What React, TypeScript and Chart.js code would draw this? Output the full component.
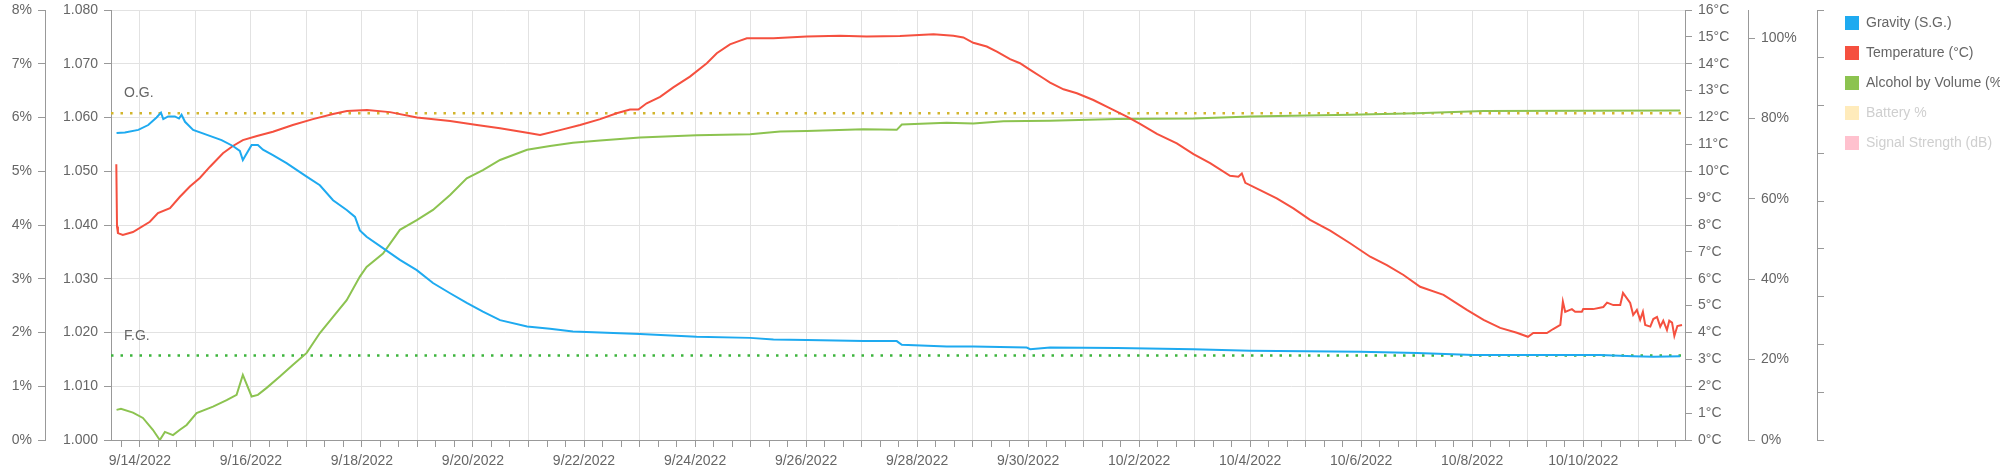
import React, { useEffect, useRef } from 'react';
import { Chart, registerables } from 'chart.js';

Chart.register(...registerables);

// ---- time axis: hours since 9/14/2022 00:00 ----
const X_MIN = -12.5;
const X_MAX = 668;
const START_Y = 2022;
const START_M = 8; // September (0-based)
const START_D = 14;

// ---- series ----
const gravityHours = [-10.1, -6.5, -0.7, 3.6, 7.2, 9.1, 10.1, 12.2, 15.1, 16.9, 18.0, 19.5, 23.0, 28.1, 35.3, 40.2, 43.2, 44.5, 48.3, 51.0, 53.2, 57.5, 63.4, 72.1, 77.8, 83.5, 89.4, 93.0, 95.1, 98.0, 105.1, 112.4, 119.7, 126.7, 134.1, 141.3, 148.3, 155.7, 167.4, 177.3, 187.2, 198.9, 216.2, 240.7, 263.8, 273.9, 288.3, 312.8, 327.2, 329.4, 348.8, 360.3, 383.4, 384.9, 393.5, 422.4, 455.5, 480.0, 527.6, 552.1, 576.6, 588.1, 631.4, 645.6, 654.3, 665.9];
const gravitySG = [1.0571, 1.0572, 1.0577, 1.0586, 1.0600, 1.0609, 1.0597, 1.0602, 1.0602, 1.0598, 1.0605, 1.0592, 1.0577, 1.0569, 1.0558, 1.0547, 1.0538, 1.0521, 1.0549, 1.0549, 1.0540, 1.0530, 1.0515, 1.0490, 1.0474, 1.0446, 1.0428, 1.0415, 1.0390, 1.0378, 1.0357, 1.0335, 1.0316, 1.0292, 1.0273, 1.0255, 1.0239, 1.0223, 1.0211, 1.0207, 1.0202, 1.0200, 1.0197, 1.0192, 1.0190, 1.0187, 1.0186, 1.0184, 1.0184, 1.0177, 1.0174, 1.0174, 1.0172, 1.0169, 1.0172, 1.0171, 1.0169, 1.0166, 1.0164, 1.0162, 1.0158, 1.0158, 1.0158, 1.0156, 1.0155, 1.0156];

const tempHours = [-10.2, -9.9, -9.5, -7.4, -3.0, 4.3, 7.8, 13.0, 17.3, 21.6, 25.9, 30.3, 35.9, 40.2, 44.5, 50.6, 57.5, 66.1, 74.8, 83.5, 89.5, 98.2, 108.1, 119.8, 134.1, 145.7, 155.7, 167.4, 173.0, 181.6, 190.3, 199.0, 206.1, 211.9, 215.5, 219.1, 224.9, 230.6, 237.8, 245.1, 249.4, 255.1, 259.5, 262.4, 273.9, 288.3, 302.7, 314.2, 328.6, 343.1, 351.7, 356.0, 360.3, 366.1, 370.5, 376.2, 380.5, 384.9, 390.6, 393.5, 399.3, 405.1, 412.2, 419.5, 426.7, 432.4, 439.7, 448.3, 455.5, 462.7, 471.3, 474.9, 476.4, 477.9, 484.3, 491.5, 498.7, 505.9, 514.6, 523.2, 531.9, 539.1, 546.3, 553.5, 563.6, 573.7, 580.9, 588.1, 595.3, 600.1, 602.4, 608.3, 611.0, 614.1, 615.2, 616.2, 619.1, 620.5, 623.4, 624.0, 628.3, 632.7, 634.3, 637.0, 640.0, 641.2, 644.3, 645.6, 647.2, 648.6, 649.8, 650.8, 653.0, 654.3, 655.9, 657.3, 658.6, 660.2, 661.2, 662.4, 663.4, 664.7, 666.7];
const tempC = [10.26, 7.94, 7.7, 7.63, 7.74, 8.12, 8.44, 8.63, 9.05, 9.43, 9.75, 10.17, 10.67, 10.94, 11.16, 11.31, 11.47, 11.72, 11.94, 12.13, 12.24, 12.28, 12.2, 12.0, 11.87, 11.72, 11.6, 11.43, 11.35, 11.53, 11.72, 11.94, 12.16, 12.3, 12.3, 12.53, 12.77, 13.12, 13.52, 14.02, 14.39, 14.72, 14.86, 14.95, 14.95, 15.01, 15.04, 15.01, 15.03, 15.1, 15.04, 14.98, 14.78, 14.64, 14.45, 14.17, 14.02, 13.77, 13.46, 13.3, 13.05, 12.9, 12.65, 12.34, 12.03, 11.76, 11.39, 11.04, 10.64, 10.3, 9.83, 9.8, 9.92, 9.57, 9.3, 8.99, 8.62, 8.19, 7.79, 7.32, 6.82, 6.51, 6.14, 5.7, 5.4, 4.84, 4.47, 4.17, 3.99, 3.84, 3.98, 3.98, 4.13, 4.28, 5.15, 4.77, 4.87, 4.77, 4.77, 4.87, 4.87, 4.95, 5.11, 5.02, 5.02, 5.47, 5.1, 4.65, 4.84, 4.47, 4.77, 4.28, 4.22, 4.5, 4.58, 4.22, 4.44, 4.09, 4.44, 4.37, 3.87, 4.24, 4.28];

const abvHours = [-10.1, -8.2, -3.0, 1.3, 5.6, 8.6, 10.8, 14.3, 17.3, 20.2, 24.5, 31.6, 37.5, 41.8, 44.5, 48.3, 51.0, 54.8, 60.5, 66.2, 72.1, 77.8, 83.5, 89.4, 95.1, 98.0, 105.1, 112.4, 119.7, 126.7, 134.1, 141.3, 148.3, 155.7, 167.4, 177.3, 187.2, 198.9, 216.2, 240.7, 263.8, 276.8, 288.3, 312.8, 327.2, 329.4, 348.8, 360.3, 373.3, 393.5, 422.4, 455.5, 480.0, 523.2, 552.1, 580.9, 665.9];
const abvPct = [0.56, 0.58, 0.51, 0.41, 0.19, 0.0, 0.15, 0.09, 0.19, 0.28, 0.5, 0.62, 0.74, 0.84, 1.21, 0.81, 0.84, 0.97, 1.18, 1.40, 1.62, 1.99, 2.29, 2.60, 3.04, 3.22, 3.47, 3.91, 4.09, 4.28, 4.56, 4.87, 5.02, 5.21, 5.40, 5.47, 5.53, 5.57, 5.63, 5.67, 5.69, 5.74, 5.75, 5.78, 5.77, 5.87, 5.90, 5.89, 5.93, 5.94, 5.97, 5.98, 6.02, 6.05, 6.08, 6.12, 6.13];

// ---- legend / series meta ----
const seriesNames = ['Gravity (S.G.)', 'Temperature (°C)', 'Alcohol by Volume (%)', 'Battery %', 'Signal Strength (dB)'];
const seriesColors = ['#1eaaf0', '#f5503f', '#8cc350', '#ffcd56', '#ff6384'];
const seriesHidden = [false, false, false, true, true];

// ---- reference lines ----
const refNames = ['O.G.', 'F.G.'];
const refValues = [1.0608, 1.0157];
const refColors = ['#d2b52c', '#3cb43c'];

const AXIS = '#999999';
const GRID = '#e2e2e2';
const TEXT = '#666666';
const FONT = '"Liberation Sans", Arial, Helvetica, sans-serif';

function dateLabel(h: number): string {
  const d = new Date(START_Y, START_M, START_D + Math.round(h / 24));
  return `${d.getMonth() + 1}/${d.getDate()}/${d.getFullYear()}`;
}

function zip(xs: number[], ys: number[]) {
  return xs.map((x, i) => ({ x, y: ys[i] }));
}

function hexToRgba(hex: string, a: number) {
  const n = parseInt(hex.slice(1), 16);
  return `rgba(${(n >> 16) & 255},${(n >> 8) & 255},${n & 255},${a})`;
}

const refLabelPlugin = {
  id: 'refLabels',
  afterDatasetsDraw(chart: any) {
    const y = chart.scales.gravity;
    const ctx = chart.ctx;
    ctx.save();
    ctx.font = `14px ${FONT}`;
    ctx.fillStyle = TEXT;
    ctx.textAlign = 'left';
    ctx.textBaseline = 'alphabetic';
    refNames.forEach((name, i) => {
      ctx.fillText(name, chart.chartArea.left + 13, y.getPixelForValue(refValues[i]) - 16);
    });
    ctx.restore();
  },
};

function yAxis(position: 'left' | 'right', width: number, weight: number, extra: any) {
  return {
    type: 'linear',
    position,
    weight,
    afterFit: (s: any) => {
      s.width = width;
      s.paddingTop = 10;
      s.paddingBottom = 0;
    },
    border: { color: AXIS, width: 1 },
    grid: { drawOnChartArea: false, tickLength: 7, tickColor: AXIS, color: GRID },
    ...extra,
    ticks: { padding: 6, color: TEXT, font: { size: 14, family: FONT }, ...(extra.ticks || {}) },
  };
}

export default function App() {
  const ref = useRef<HTMLCanvasElement>(null);

  useEffect(() => {
    document.body.style.margin = '0';
    document.body.style.overflow = 'hidden';
    Chart.defaults.font.family = FONT;
    Chart.defaults.font.size = 14;
    Chart.defaults.color = TEXT;

    const lineDs = (i: number, data: any[], axis: string) => ({
      label: seriesNames[i],
      data,
      yAxisID: axis,
      borderColor: seriesColors[i],
      backgroundColor: seriesColors[i],
      borderWidth: 2,
      pointRadius: 0,
      tension: 0,
      fill: false,
      hidden: seriesHidden[i],
      order: i,
    });

    const refDs = (i: number) => ({
      label: refNames[i],
      data: [{ x: X_MIN, y: refValues[i] }, { x: X_MAX, y: refValues[i] }],
      yAxisID: 'gravity',
      borderColor: refColors[i],
      borderWidth: 2.5,
      borderDash: [2.5, 7],
      pointRadius: 0,
      fill: false,
      order: 10,
    });

    const chart = new Chart(ref.current as HTMLCanvasElement, {
      type: 'line',
      data: {
        datasets: [
          lineDs(0, zip(gravityHours, gravitySG), 'gravity'),
          lineDs(1, zip(tempHours, tempC), 'temp'),
          lineDs(2, zip(abvHours, abvPct), 'abv'),
          lineDs(3, [], 'battery'),
          lineDs(4, [], 'signal'),
          refDs(0),
          refDs(1),
        ] as any,
      },
      options: {
        responsive: false,
        animation: false,
        events: [],
        layout: { padding: 0 },
        plugins: {
          tooltip: { enabled: false },
          legend: {
            position: 'right',
            align: 'start',
            maxWidth: 171,
            onClick: () => {},
            labels: {
              boxWidth: 14,
              boxHeight: 14,
              padding: 16,
              color: TEXT,
              font: { size: 14, family: FONT },
              generateLabels: () =>
                seriesNames.map((name, i) => {
                  const c = seriesHidden[i] ? hexToRgba(seriesColors[i], 0.4) : seriesColors[i];
                  return {
                    text: name,
                    fillStyle: c,
                    strokeStyle: c,
                    lineWidth: 0,
                    hidden: false,
                    fontColor: seriesHidden[i] ? '#cfcfcf' : TEXT,
                    datasetIndex: i,
                  } as any;
                }),
            },
          },
        },
        scales: {
          x: {
            type: 'linear',
            position: 'bottom',
            min: X_MIN,
            max: X_MAX,
            afterBuildTicks: (s: any) => {
              const t: any[] = [];
              for (let v = Math.ceil(X_MIN / 8) * 8; v <= X_MAX; v += 8) t.push({ value: v });
              s.ticks = t;
            },
            afterFit: (s: any) => {
              s.height = 31;
              s.paddingLeft = 0;
              s.paddingRight = 0;
            },
            border: { color: AXIS, width: 1 },
            grid: {
              color: (c: any) => (c.tick && Math.abs(c.tick.value % 24) < 1e-6 ? GRID : 'rgba(0,0,0,0)'),
              tickColor: AXIS,
              tickLength: 7,
            },
            ticks: {
              autoSkip: false,
              maxRotation: 0,
              minRotation: 0,
              padding: 6,
              color: TEXT,
              font: { size: 14, family: FONT },
              callback: (v: any) => (Math.abs(Number(v) % 48) < 1e-6 ? dateLabel(Number(v)) : ''),
            },
          },
          abv: yAxis('left', 45, 1, {
            min: 0,
            max: 8,
            ticks: { stepSize: 1, callback: (v: any) => `${v}%` },
          }),
          gravity: yAxis('left', 66, 0, {
            min: 1.0,
            max: 1.08,
            grid: { drawOnChartArea: true, tickLength: 7, tickColor: AXIS, color: GRID },
            ticks: { stepSize: 0.01, callback: (v: any) => Number(v).toFixed(3) },
          }),
          temp: yAxis('right', 63, 0, {
            min: 0,
            max: 16,
            ticks: { stepSize: 1, callback: (v: any) => `${v}°C` },
          }),
          battery: yAxis('right', 69, 1, {
            min: 0,
            max: 107,
            ticks: { stepSize: 20, includeBounds: false, callback: (v: any) => `${v}%` },
          }),
          signal: yAxis('right', 12, 2, {
            min: 0,
            max: 9,
            ticks: { stepSize: 1, callback: () => '' },
          }),
        } as any,
      },
      plugins: [refLabelPlugin],
    });

    return () => chart.destroy();
  }, []);

  return (
    <div style={{ width: 2000, height: 471 }}>
      <canvas ref={ref} width={2000} height={471} style={{ display: 'block' }} />
    </div>
  );
}
